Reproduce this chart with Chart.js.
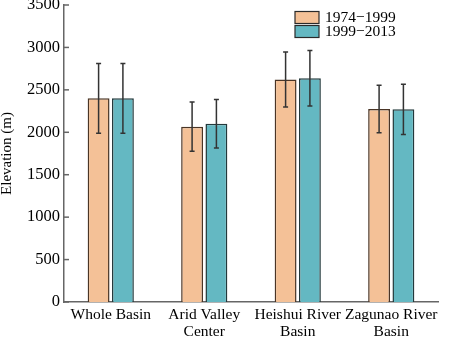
<!DOCTYPE html>
<html>
<head>
<meta charset="utf-8">
<script src="https://cdn.jsdelivr.net/npm/chart.js@4"></script>
<style>
  html, body { margin: 0; padding: 0; background: #fff; }
  #wrap { width: 451px; height: 338px; }
</style>
</head>
<body>
<div id="wrap"><canvas id="elevChart" width="451" height="338"></canvas></div>
<script>
// mean elevation per region and period, with standard deviation
const regions = [['Whole Basin'], ['Arid Valley', 'Center'], ['Heishui River', 'Basin'], ['Zagunao River', 'Basin']];
const periods = ['1974\u22121999', '1999\u22122013'];
const elev7499 = [2400, 2066, 2622, 2274];
const elev9913 = [2400, 2100, 2636, 2270];
const sd7499 = [410, 290, 325, 280];
const sd9913 = [412, 285, 327, 296];
const yTicks = [0, 500, 1000, 1500, 2000, 2500, 3000, 3500];

const FONT = "'Liberation Serif', 'Times New Roman', serif";
const errs = [sd7499, sd9913];

const errorBars = {
    id: 'errorBars',
    afterDatasetsDraw(chart) {
        const ctx = chart.ctx;
        const y = chart.scales.y;
        ctx.save();
        ctx.strokeStyle = '#333';
        ctx.lineWidth = 1.5;
        chart.data.datasets.forEach((ds, i) => {
            const meta = chart.getDatasetMeta(i);
            meta.data.forEach((bar, j) => {
                const v = ds.data[j], e = errs[i][j];
                const top = y.getPixelForValue(v + e);
                const bot = y.getPixelForValue(v - e);
                ctx.beginPath();
                ctx.moveTo(bar.x, top); ctx.lineTo(bar.x, bot);
                ctx.moveTo(bar.x - 2.5, top); ctx.lineTo(bar.x + 2.5, top);
                ctx.moveTo(bar.x - 2.5, bot); ctx.lineTo(bar.x + 2.5, bot);
                ctx.stroke();
            });
        });
        ctx.restore();
    }
};

// inward tick marks on the y axis plus the boxed legend in the top right
const extras = {
    id: 'extras',
    afterDraw(chart) {
        const ctx = chart.ctx;
        const y = chart.scales.y;
        const area = chart.chartArea;
        ctx.save();
        ctx.strokeStyle = '#666';
        ctx.lineWidth = 1.5;
        yTicks.forEach(t => {
            const py = y.getPixelForValue(t);
            ctx.beginPath();
            ctx.moveTo(area.left, py);
            ctx.lineTo(area.left + 5, py);
            ctx.stroke();
        });

        const lx = area.right - 143, ly = 11.5;
        ctx.font = '15.5px ' + FONT;
        ctx.textBaseline = 'middle';
        chart.data.datasets.forEach((ds, i) => {
            const by = ly + i * 14;
            ctx.fillStyle = ds.backgroundColor;
            ctx.fillRect(lx, by, 24, 12);
            ctx.strokeStyle = '#2a2a2a';
            ctx.lineWidth = 1.2;
            ctx.strokeRect(lx, by, 24, 12);
            ctx.fillStyle = '#000';
            ctx.fillText(ds.label, lx + 30, by + 6.5);
        });
        ctx.restore();
    }
};

new Chart(document.getElementById('elevChart'), {
    type: 'bar',
    data: {
        labels: regions,
        datasets: [
            { label: periods[0], data: elev7499, backgroundColor: '#F4C197', borderColor: '#4a3526', borderWidth: 1.5 },
            { label: periods[1], data: elev9913, backgroundColor: '#64B8C2', borderColor: '#23393c', borderWidth: 1.5 }
        ]
    },
    options: {
        responsive: false,
        animation: false,
        categoryPercentage: 0.52,
        barPercentage: 0.9,
        layout: { padding: { top: 5, right: 13, left: 0, bottom: 0 } },
        plugins: { legend: { display: false }, tooltip: { enabled: false } },
        scales: {
            x: {
                grid: { display: false, drawTicks: false, tickLength: 0 },
                border: { display: true, color: '#666', width: 1.5 },
                ticks: { color: '#000', padding: 5, font: { family: FONT, size: 15.5, lineHeight: 1.07 }, maxRotation: 0, autoSkip: false },
                afterFit(scale) { scale.height = 36; scale.paddingLeft = 0; scale.paddingRight = 0; }
            },
            y: {
                min: 0, max: 3500,
                afterBuildTicks(scale) { scale.ticks = yTicks.map(v => ({ value: v })); },
                grid: { display: false, drawTicks: false, tickLength: 0 },
                border: { display: true, color: '#666', width: 1.5 },
                ticks: { color: '#000', padding: 4, font: { family: FONT, size: 16.5 }, callback: v => String(v) },
                title: { display: true, text: 'Elevation (m)', color: '#000', padding: { top: 0, bottom: 0 }, font: { family: FONT, size: 15, lineHeight: 1 } },
                afterFit(scale) { scale.width = 64; scale.paddingTop = 0; scale.paddingBottom = 0; }
            }
        }
    },
    plugins: [errorBars, extras]
});
</script>
</body>
</html>
